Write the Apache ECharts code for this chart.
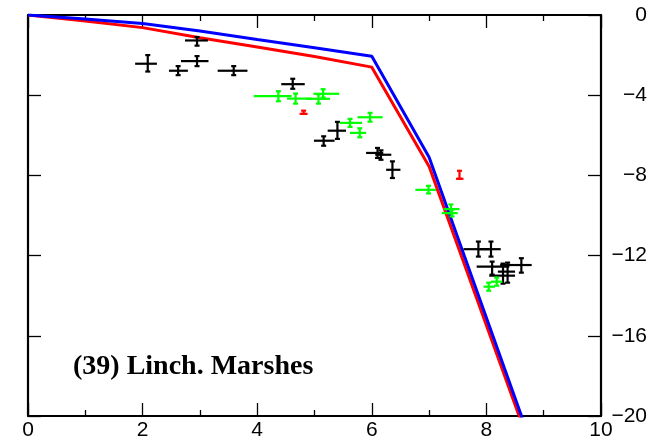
<!DOCTYPE html>
<html>
<head>
<meta charset="utf-8">
<script src="https://cdn.jsdelivr.net/npm/echarts@6/dist/echarts.min.js"></script>
<style>
html,body{margin:0;padding:0;background:#fff;}
#chart{width:653px;height:445px;}
</style>
</head>
<body>
<div id="chart"></div>
<script>
// ---- data ----
const xTickLabels = ['0', '2', '4', '6', '8', '10'];
const yTickLabels = ['0', '\u22124', '\u22128', '\u221212', '\u221216', '\u221220'];
const titleText = '(39) Linch. Marshes';

// model curves [x, y]
const blueLine = [[0, 0], [1, -0.2], [2, -0.42], [3, -0.8], [4, -1.22], [5, -1.63], [6, -2.06], [7, -7.1], [9, -23.1]];
const redLine = [[0, 0], [1, -0.3], [2, -0.63], [3, -1.13], [4, -1.6], [5, -2.07], [6, -2.6], [7, -7.55], [9, -23.4]];

// observations [x, y, xLow, xHigh, yLow, yHigh]
const blackPoints = [
  [2.09, -2.43, 1.87, 2.25, -2.82, -2.0],
  [2.62, -2.78, 2.46, 2.79, -3.0, -2.55],
  [2.95, -1.27, 2.74, 3.14, -1.53, -1.1],
  [2.95, -2.3, 2.67, 3.15, -2.55, -2.05],
  [3.59, -2.78, 3.31, 3.83, -3.0, -2.55],
  [4.62, -3.45, 4.42, 4.83, -3.68, -3.18],
  [5.16, -6.27, 4.99, 5.35, -6.52, -6.05],
  [5.40, -5.77, 5.23, 5.55, -6.18, -5.33],
  [6.10, -6.88, 5.90, 6.20, -7.13, -6.63],
  [6.16, -6.97, 6.06, 6.34, -7.22, -6.75],
  [6.36, -7.72, 6.25, 6.50, -8.13, -7.30],
  [7.86, -11.68, 7.60, 8.05, -12.05, -11.3],
  [8.08, -11.68, 7.85, 8.25, -12.05, -11.3],
  [8.10, -12.55, 7.83, 8.40, -12.95, -12.3],
  [8.61, -12.47, 8.24, 8.79, -12.85, -12.13],
  [8.29, -13.0, 8.05, 8.50, -13.4, -12.4],
  [8.37, -12.8, 8.20, 8.50, -13.35, -12.35]
];
const greenPoints = [
  [4.37, -4.05, 3.94, 4.60, -4.30, -3.80],
  [4.67, -4.17, 4.52, 4.95, -4.42, -3.92],
  [5.07, -4.18, 4.85, 5.27, -4.42, -3.95],
  [5.15, -3.93, 4.98, 5.43, -4.12, -3.70],
  [5.62, -5.38, 5.44, 5.83, -5.58, -5.18],
  [5.97, -5.10, 5.75, 6.19, -5.32, -4.88],
  [5.79, -5.88, 5.62, 5.90, -6.10, -5.65],
  [6.99, -8.72, 6.76, 7.12, -8.90, -8.52],
  [7.38, -9.68, 7.25, 7.53, -9.90, -9.45],
  [7.40, -9.88, 7.22, 7.50, -10.05, -9.70],
  [8.04, -13.55, 7.95, 8.15, -13.75, -13.35],
  [8.18, -13.30, 8.08, 8.28, -13.50, -13.10]
];
const redPoints = [
  [4.81, -4.93, 4.74, 4.88, -4.93, -4.77],
  [7.53, -8.17, 7.47, 7.60, -8.17, -7.77]
];

// ---- rendering ----
function renderErr(params, api) {
  const x = api.value(0), y = api.value(1);
  const pL = api.coord([api.value(2), y]);
  const pR = api.coord([api.value(3), y]);
  const pB = api.coord([x, api.value(4)]);
  const pT = api.coord([x, api.value(5)]);
  const color = api.visual('color');
  const cap = 2.5;
  const st = { stroke: color, lineWidth: 2.2 };
  return {
    type: 'group',
    children: [
      { type: 'line', shape: { x1: pL[0], y1: pL[1], x2: pR[0], y2: pR[1] }, style: st },
      { type: 'line', shape: { x1: pB[0], y1: pB[1], x2: pT[0], y2: pT[1] }, style: st },
      { type: 'line', shape: { x1: pB[0] - cap, y1: pB[1], x2: pB[0] + cap, y2: pB[1] }, style: st },
      { type: 'line', shape: { x1: pT[0] - cap, y1: pT[1], x2: pT[0] + cap, y2: pT[1] }, style: st }
    ]
  };
}

function errSeries(data, color) {
  return {
    type: 'custom',
    xAxisIndex: 0, yAxisIndex: 0,
    renderItem: renderErr,
    itemStyle: { color: color },
    encode: { x: [0, 2, 3], y: [1, 4, 5] },
    data: data,
    z: 5,
    silent: true
  };
}

const chart = echarts.init(document.getElementById('chart'), null, { renderer: 'canvas' });
const axisFont = { fontFamily: 'Liberation Sans, Arial, sans-serif', fontSize: 21, color: '#000' };
const lineStyleAxis = { color: '#000', width: 2.2 };

chart.setOption({
  animation: false,
  backgroundColor: '#fff',
  grid: { left: 28, right: 52, top: 15, bottom: 29, containLabel: false },
  xAxis: [
    {
      type: 'value', position: 'bottom', min: 0, max: 10, interval: 2,
      axisLine: { show: true, onZero: false, lineStyle: lineStyleAxis },
      axisTick: { show: true, inside: true, length: 13, lineStyle: { color: '#000', width: 1.3 } },
      minorTick: { show: true, splitNumber: 2, length: 6, lineStyle: { color: '#000', width: 1.3 } },
      splitLine: { show: false },
      axisLabel: Object.assign({ margin: 4, formatter: v => xTickLabels[Math.round(v / 2)] }, axisFont)
    },
    {
      type: 'value', position: 'top', min: 0, max: 10, interval: 2,
      axisLine: { show: true, onZero: false, lineStyle: lineStyleAxis },
      axisTick: { show: true, inside: true, length: 13, lineStyle: { color: '#000', width: 1.3 } },
      minorTick: { show: true, splitNumber: 2, length: 6, lineStyle: { color: '#000', width: 1.3 } },
      splitLine: { show: false },
      axisLabel: { show: false }
    }
  ],
  yAxis: [
    {
      type: 'value', position: 'right', min: -20, max: 0, interval: 4,
      axisLine: { show: true, onZero: false, lineStyle: lineStyleAxis },
      axisTick: { show: true, inside: true, length: 13, lineStyle: { color: '#000', width: 1.3 } },
      splitLine: { show: false },
      axisLabel: Object.assign({ margin: 46, align: 'right', formatter: v => yTickLabels[Math.round(-v / 4)] }, axisFont)
    },
    {
      type: 'value', position: 'left', min: -20, max: 0, interval: 4,
      axisLine: { show: true, onZero: false, lineStyle: lineStyleAxis },
      axisTick: { show: true, inside: true, length: 13, lineStyle: { color: '#000', width: 1.3 } },
      splitLine: { show: false },
      axisLabel: { show: false }
    }
  ],
  graphic: [
    {
      type: 'text', left: 73, top: 353, z: 10,
      style: { text: titleText, font: 'bold 28px "Liberation Serif", "Times New Roman", serif', fill: '#000' }
    }
  ],
  series: [
    {
      type: 'line', data: redLine, xAxisIndex: 0, yAxisIndex: 0,
      showSymbol: false, symbol: 'none', clip: true,
      lineStyle: { color: '#ff0000', width: 3 }, z: 2, silent: true
    },
    {
      type: 'line', data: blueLine, xAxisIndex: 0, yAxisIndex: 0,
      showSymbol: false, symbol: 'none', clip: true,
      lineStyle: { color: '#0000ff', width: 3 }, z: 3, silent: true
    },
    errSeries(blackPoints, '#000000'),
    errSeries(greenPoints, '#00ff00'),
    errSeries(redPoints, '#ff0000')
  ]
});
</script>
</body>
</html>
